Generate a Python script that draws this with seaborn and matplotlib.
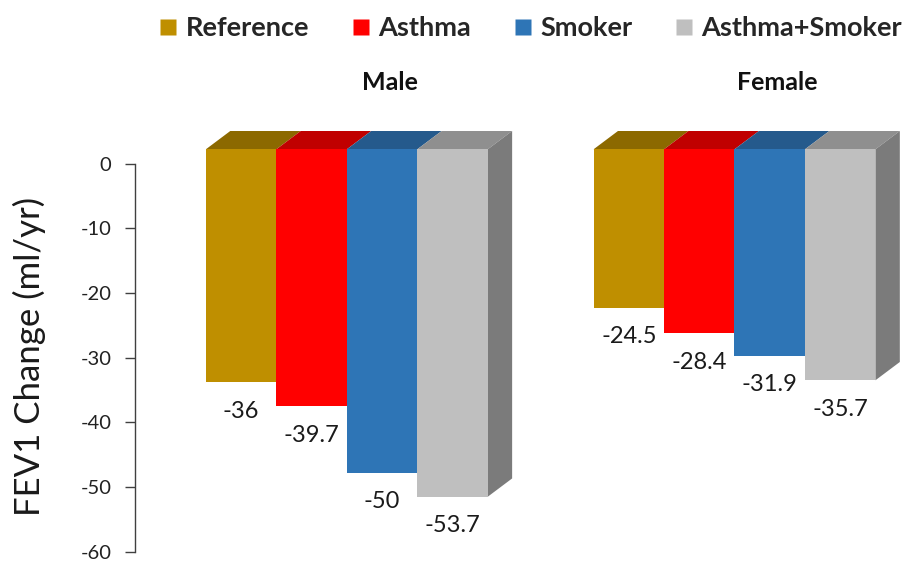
import numpy as np
import pandas as pd
import matplotlib
matplotlib.use("Agg")
import matplotlib.pyplot as plt
from matplotlib.patches import Polygon
from matplotlib.lines import Line2D
import matplotlib.transforms as mtransforms
import seaborn as sns

# data
sexes = ["Male", "Female"]
groups = ["Reference", "Asthma", "Smoker", "Asthma+Smoker"]
male_vals = [-36, -39.7, -50, -53.7]
female_vals = [-24.5, -28.4, -31.9, -35.7]
yticks = [0, -10, -20, -30, -40, -50, -60]

front_colors = ["#BF8F00", "#FF0000", "#2E75B6", "#BFBFBF"]
top_colors = ["#8C6900", "#C00000", "#255A8C", "#8F8F8F"]
side_color = "#7B7B7B"

df = pd.DataFrame({
    "sex": [s for s in sexes for _ in groups],
    "group": groups * 2,
    "value": male_vals + female_vals,
})

sns.set_style("white")
plt.rcParams["font.family"] = ["Lato", "DejaVu Sans"]

W, H = 903, 561
fig = plt.figure(figsize=(W / 100, H / 100), dpi=100)
# axes box in pixels: x 135..903, y 120..555 (from top)
ax = fig.add_axes([135 / W, (H - 555) / H, 768 / W, 435 / H])

sns.barplot(data=df, x="sex", y="value", hue="group", order=sexes,
            hue_order=groups, palette=front_colors, saturation=1,
            width=0.727, legend=False, ax=ax, linewidth=0, zorder=3)

px_x = 387.7   # pixels per category unit
px_y = 6.47    # pixels per ml/yr
ax.set_xlim((135 - 346.8) / px_x, (903 - 346.8) / px_x)
top = (149.3 - 120) / px_y
ax.set_ylim(top - 435 / px_y, top)

# 3D depth offset (pixels -> data)
dx = 24.4 / px_x
dy = 18.3 / px_y

bars = sorted(ax.patches, key=lambda p: p.get_x())
vals = male_vals + female_vals
for i, p in enumerate(bars):
    x0, w = p.get_x(), p.get_width()
    v = vals[i]
    k = i % len(groups)
    topface = Polygon([(x0, 0), (x0 + w, 0), (x0 + w + dx, dy), (x0 + dx, dy)],
                      closed=True, facecolor=top_colors[k], edgecolor="none",
                      zorder=2)
    ax.add_patch(topface)
    if k == len(groups) - 1:
        side = Polygon([(x0 + w, 0), (x0 + w + dx, dy), (x0 + w + dx, v + dy),
                        (x0 + w, v)], closed=True, facecolor=side_color,
                       edgecolor="none", zorder=2)
        ax.add_patch(side)
    ax.annotate(f"{v:g}", xy=(x0 + w / 2, v), xytext=(0, -21),
                textcoords="offset points", ha="center", va="center",
                fontsize=17, color="#1a1a1a")

# y axis (sits lower than the bar fronts, as in the 3D view)
shift = -14.2 / px_y
ax.set_yticks([t + shift for t in yticks])
ax.set_yticklabels([str(t) for t in yticks], fontsize=14.5, color="#222222")
ax.set_xticks([])
for s in ["top", "right", "bottom"]:
    ax.spines[s].set_visible(False)
ax.spines["left"].set_bounds(yticks[-1] + shift, yticks[0] + shift)
ax.spines["left"].set_color("#404040")
ax.spines["left"].set_linewidth(1)
ax.tick_params(axis="y", direction="out", length=7, width=1, color="#404040",
               pad=10, left=True)
ax.set_xlabel("")
ax.set_ylabel("")
fig.text(29 / W, 1 - 356 / H, "FEV1 Change (ml/yr)", rotation=90,
         ha="center", va="center", fontsize=25, color="#1a1a1a")

# group titles
trans = mtransforms.blended_transform_factory(ax.transData, fig.transFigure)
for i, s in enumerate(sexes):
    ax.text(i + 43 / px_x, 1 - 82 / H, s, transform=trans, ha="center",
            va="center", fontsize=18, fontweight="bold", color="#111111")

handles = [Line2D([], [], marker="s", linestyle="none", markersize=11,
                  markerfacecolor=c, markeredgecolor="none") for c in front_colors]
fig.legend(handles, groups, loc="center right",
           bbox_to_anchor=(902 / W, 1 - 28 / H),
           ncol=4, frameon=False, handlelength=0.6, handletextpad=0.35,
           columnspacing=1.6, borderaxespad=0, borderpad=0,
           prop={"weight": "bold", "size": 19.5})

fig.savefig("out.png", dpi=100)
